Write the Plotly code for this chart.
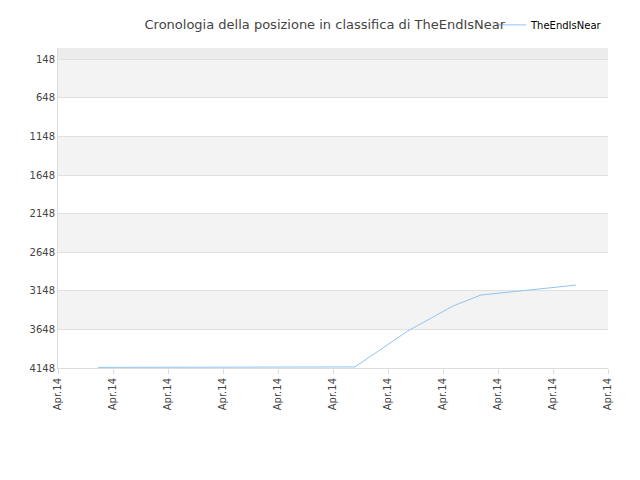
import plotly.graph_objects as go

x = [0.73, 1.5, 2.5, 3.5, 4.5, 5.4, 6.36, 7.18, 7.69, 8.18, 8.8, 9.42]
rank = [4140, 4140, 4140, 4140, 4140, 4134, 3668, 3345, 3202, 3170, 3120, 3073]
tick_pos = list(range(11))
tick_text = ["Apr.14"] * 11
y_ticks = [148, 648, 1148, 1648, 2148, 2648, 3148, 3648, 4148]

fig = go.Figure()
fig.add_trace(go.Scatter(x=x, y=rank, mode="lines", name="TheEndIsNear",
                         line=dict(color="#90c4f4", width=1)))

# alternating bands
shapes = [dict(type="rect", xref="paper", x0=0, x1=1, yref="y", y0=0, y1=148,
               fillcolor="#ececec", line_width=0, layer="below")]
for lo in [148, 1148, 2148, 3148]:
    shapes.append(dict(type="rect", xref="paper", x0=0, x1=1, yref="y", y0=lo, y1=lo + 500,
                       fillcolor="#f3f3f3", line_width=0, layer="below"))

fig.update_layout(
    width=640, height=480,
    title=dict(text="Cronologia della posizione in classifica di TheEndIsNear", x=0.495, y=0.975,
               xanchor="center", font=dict(size=13, color="#444")),
    font=dict(family="DejaVu Sans", size=10, color="#444"),
    plot_bgcolor="white", paper_bgcolor="white",
    margin=dict(l=50, r=40, t=40, b=120, autoexpand=False),
    shapes=shapes,
    showlegend=True,
    legend=dict(orientation="h", x=1.0, xanchor="right", yref="container", y=0.995, yanchor="top",
                font=dict(size=10, color="#000")),
    xaxis=dict(range=[0, 10], tickvals=tick_pos, ticktext=tick_text, tickangle=-90,
               showgrid=False, showline=True, linecolor="#ddd", ticks="outside",
               tickcolor="#ddd", zeroline=False, automargin=False, tickfont=dict(size=10)),
    yaxis=dict(range=[4148, 0], tickvals=y_ticks, showgrid=True, gridcolor="#e0e0e0",
               zeroline=False, showline=True, linecolor="#ddd", automargin=False,
               tickfont=dict(size=10)),
)
fig.write_html("out.html")
